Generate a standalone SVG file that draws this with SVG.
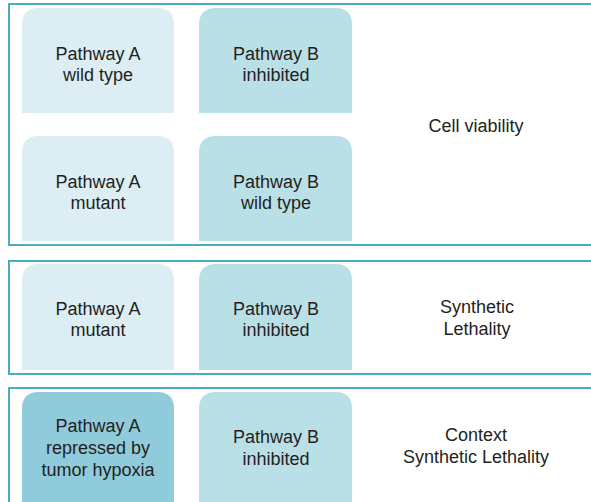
<svg xmlns="http://www.w3.org/2000/svg" width="591" height="502" viewBox="0 0 591 502">
<style>
.frame{fill:none;stroke:#4daac6;stroke-width:2}
.a{fill:#dcedf3}
.b{fill:#b9dfe7}
.d{fill:#90cbdc}
text{font-family:"Liberation Sans",Arial,sans-serif;font-size:18px;fill:#231f20;text-anchor:middle}
</style>
<rect width="591" height="502" fill="#fff"/>
<g id="frames">
<path class="frame" d="M600,4 H9 V245 H600"/>
<path class="frame" d="M600,261 H9 V374 H600"/>
<path class="frame" d="M600,388 H9 V510"/>
</g>
<g id="a1"><path class="a" d="M22,113 V25 Q22,8 39,8 H157 Q174,8 174,25 V113 Z"/><text x="98" y="60">Pathway A</text><text x="98" y="81">wild type</text></g>
<g id="b1"><path class="b" d="M199,113 V25 Q199,8 216,8 H335 Q352,8 352,25 V113 Z"/><text x="276" y="60">Pathway B</text><text x="276" y="81">inhibited</text></g>
<g id="a2"><path class="a" d="M22,241 V153 Q22,136 39,136 H157 Q174,136 174,153 V241 Z"/><text x="98" y="188">Pathway A</text><text x="98" y="209">mutant</text></g>
<g id="b2"><path class="b" d="M199,241 V153 Q199,136 216,136 H335 Q352,136 352,153 V241 Z"/><text x="276" y="188">Pathway B</text><text x="276" y="209">wild type</text></g>
<g id="r1"><text x="476" y="132">Cell viability</text></g>
<g id="a3"><path class="a" d="M22,370 V281 Q22,264 39,264 H157 Q174,264 174,281 V370 Z"/><text x="98" y="315">Pathway A</text><text x="98" y="336">mutant</text></g>
<g id="b3"><path class="b" d="M199,370 V281 Q199,264 216,264 H335 Q352,264 352,281 V370 Z"/><text x="276" y="315">Pathway B</text><text x="276" y="336">inhibited</text></g>
<g id="r2"><text x="477" y="313">Synthetic</text><text x="477" y="335">Lethality</text></g>
<g id="a4"><path class="d" d="M22,502 V409 Q22,392 39,392 H157 Q174,392 174,409 V502 Z"/><text x="98" y="432">Pathway A</text><text x="98" y="454">repressed by</text><text x="98" y="476">tumor hypoxia</text></g>
<g id="b4"><path class="b" d="M199,502 V409 Q199,392 216,392 H335 Q352,392 352,409 V502 Z"/><text x="276" y="443">Pathway B</text><text x="276" y="465">inhibited</text></g>
<g id="r3"><text x="476" y="441">Context</text><text x="476" y="463">Synthetic Lethality</text></g>
<g id="connectors"></g>
</svg>
